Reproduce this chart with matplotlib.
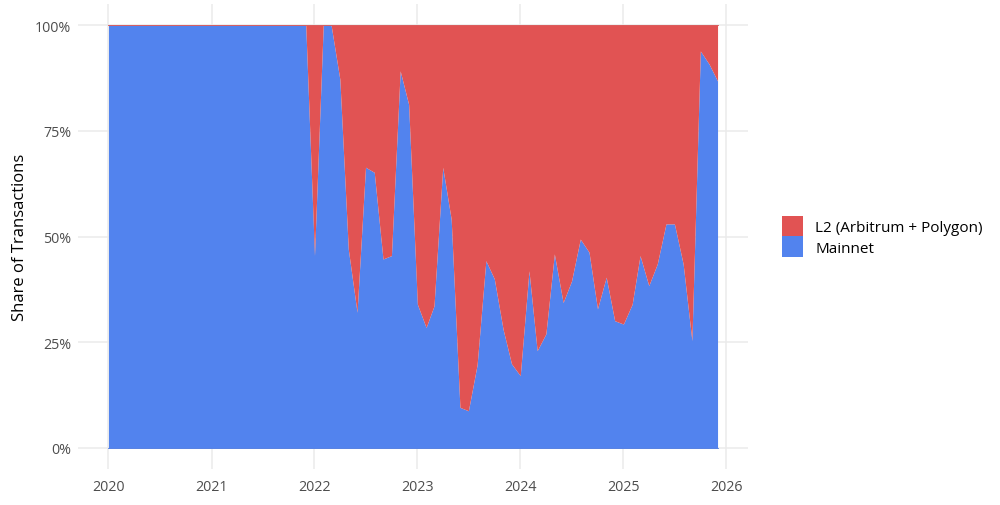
import matplotlib
matplotlib.use("Agg")
import matplotlib.pyplot as plt
import matplotlib.dates as mdates
from matplotlib.patches import Patch
from matplotlib.ticker import FuncFormatter
import pandas as pd
import numpy as np

plt.rcParams['font.family'] = ['Open Sans', 'DejaVu Sans']

months = pd.date_range("2020-01-01", "2025-12-01", freq="MS")
mainnet_share = (
    [1.0] * 12 +  # 2020
    [1.0] * 12 +  # 2021
    [0.455, 1.0, 1.0, 0.872, 0.47, 0.321, 0.664, 0.652, 0.447, 0.455, 0.892, 0.813] +  # 2022
    [0.340, 0.285, 0.336, 0.664, 0.541, 0.096, 0.088, 0.197, 0.443, 0.400, 0.281, 0.199] +  # 2023
    [0.171, 0.419, 0.230, 0.270, 0.459, 0.344, 0.395, 0.494, 0.463, 0.329, 0.404, 0.301] +  # 2024
    [0.293, 0.340, 0.455, 0.384, 0.435, 0.530, 0.530, 0.435, 0.254, 0.939, 0.908, 0.868]    # 2025
)
l2_share = [1.0 - v for v in mainnet_share]
series_labels = ["L2 (Arbitrum + Polygon)", "Mainnet"]
year_ticks = [str(y) for y in range(2020, 2027)]

c_l2 = "#E15353"
c_main = "#5283EE"

fig = plt.figure(figsize=(10, 5.06), dpi=100)
ax = fig.add_axes([0.078, 0.071, 0.670, 0.919])

x = mdates.date2num(months.to_pydatetime())
m = np.array(mainnet_share)
l2 = np.array(l2_share)
ax.fill_between(x, 0, m, color=c_main, lw=0, zorder=2)
ax.fill_between(x, m, m + l2, color=c_l2, lw=0, zorder=2)
ax.plot(x, m + l2, color="#D94A4A", lw=0.6, zorder=3)
ax.plot(x, np.zeros_like(x), color="#4A78E0", lw=0.6, zorder=3)

tick_dates = [mdates.date2num(pd.Timestamp(f"{y}-01-01").to_pydatetime()) for y in year_ticks]
span = x[-1] - x[0]
ax.set_xlim(x[0] - 0.05 * span, x[-1] + 0.05 * span)
ax.set_ylim(-0.05, 1.05)
ax.set_xticks(tick_dates)
ax.set_xticklabels(year_ticks)
ax.set_yticks([0, 0.25, 0.5, 0.75, 1.0])
ax.yaxis.set_major_formatter(FuncFormatter(lambda v, p: f"{int(round(v*100))}%"))

ax.grid(True, color="#EBEBEB", lw=1.1, zorder=0)
ax.set_axisbelow(True)
for s in ax.spines.values():
    s.set_visible(False)
ax.tick_params(axis="x", length=0, labelsize=10.3, labelcolor="#4D4D4D", pad=7)
ax.tick_params(axis="y", length=0, labelsize=10.3, labelcolor="#4D4D4D", pad=5)
ax.set_ylabel("Share of Transactions", fontsize=12, color="black", labelpad=5)

handles = [Patch(facecolor=c_l2, edgecolor="none"), Patch(facecolor=c_main, edgecolor="none")]
fig.legend(handles, series_labels, loc="center left", bbox_to_anchor=(0.768, 0.531),
           frameon=False, fontsize=11, handlelength=1.4, handleheight=1.7,
           handletextpad=0.8, labelspacing=0.0)

fig.savefig("out.png", dpi=100, facecolor="white")
